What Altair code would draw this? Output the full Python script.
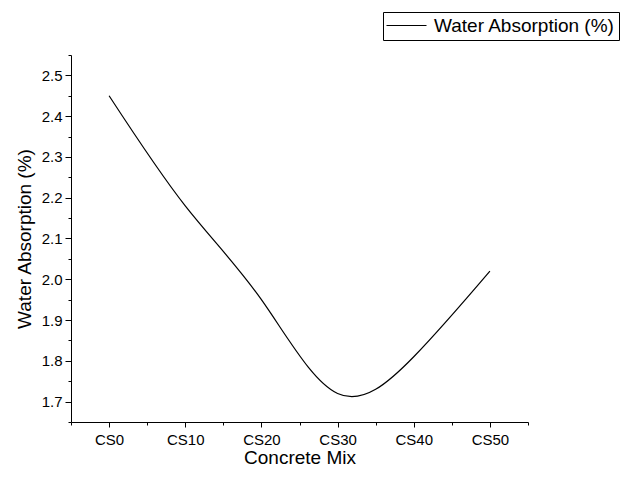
import altair as alt
import pandas as pd

# Concrete mixes and their measured water absorption
mixes = ["CS0", "CS10", "CS20", "CS30", "CS40", "CS50"]
absorption = [2.45, 2.18, 1.95, 1.72, 1.81, 2.02]
series_name = "Water Absorption (%)"

y_major = [1.7, 1.8, 1.9, 2.0, 2.1, 2.2, 2.3, 2.4, 2.5]
y_minor = [1.65, 1.75, 1.85, 1.95, 2.05, 2.15, 2.25, 2.35, 2.45, 2.55]

df = pd.DataFrame({
    "pos": list(range(1, len(mixes) + 1)),
    "mix": mixes,
    "absorption": absorption,
    "series": [series_name] * len(mixes),
})

x_major = list(range(1, len(mixes) + 1))
x_minor = [p - 0.5 for p in x_major] + [len(mixes) + 0.5]
label_expr = "[" + ",".join(f"'{m}'" for m in mixes) + "][datum.value - 1]"

FONT = "Liberation Sans"
x_scale = alt.Scale(domain=[0.5, len(mixes) + 0.5], nice=False, zero=False)
y_scale = alt.Scale(domain=[1.65, 2.55], nice=False, zero=False)

line = alt.Chart(df).mark_line(interpolate="natural", strokeWidth=1.2).encode(
    x=alt.X("pos:Q", scale=x_scale,
            axis=alt.Axis(values=x_major, labelExpr=label_expr, title="Concrete Mix",
                          orient="bottom", tickSize=5, labelPadding=5, titlePadding=1,
                          labelFontSize=15, titleFontSize=19, labelFont=FONT, titleFont=FONT,
                          titleFontWeight="normal", labelColor="black", titleColor="black",
                          domainColor="black", tickColor="black", grid=False)),
    y=alt.Y("absorption:Q", scale=y_scale,
            axis=alt.Axis(values=y_major, format=".1f", title=series_name, orient="left",
                          tickSize=6, labelPadding=3, titlePadding=7,
                          labelFontSize=15, titleFontSize=19, labelFont=FONT, titleFont=FONT,
                          titleFontWeight="normal", labelColor="black", titleColor="black",
                          domainColor="black", tickColor="black", grid=False)),
    # legend swatch: a long horizontal stroke drawn as a custom path
    color=alt.Color("series:N", scale=alt.Scale(range=["black"]),
                    legend=alt.Legend(title=None, orient="none", legendX=312, legendY=-43,
                                      symbolType="M-2,0H6", symbolSize=100,
                                      symbolStrokeWidth=1, symbolStrokeColor="black",
                                      symbolFillColor="transparent",
                                      labelFontSize=19, labelFont=FONT, labelColor="black",
                                      labelOffset=28, labelLimit=400,
                                      strokeColor="black", padding=4)),
)

# minor tick marks on both axes
minor = alt.Chart(df).mark_point(opacity=0).encode(
    x=alt.X("pos:Q", scale=x_scale,
            axis=alt.Axis(values=x_minor, labels=False, title="", orient="bottom",
                          tickSize=3, domain=False, tickColor="black", grid=False)),
    y=alt.Y("absorption:Q", scale=y_scale,
            axis=alt.Axis(values=y_minor, labels=False, title="", orient="left",
                          tickSize=3, domain=False, tickColor="black", grid=False)),
)

chart = alt.layer(line, minor).resolve_axis(x="independent", y="independent").properties(
    width=457,
    height=367,
    padding={"left": 71, "top": 55, "right": 105, "bottom": 55},
    autosize=alt.AutoSizeParams(type="none"),
    background="white",
).configure_view(stroke=None)

chart.save("out.html", embed_options={"renderer": "svg", "actions": False})
